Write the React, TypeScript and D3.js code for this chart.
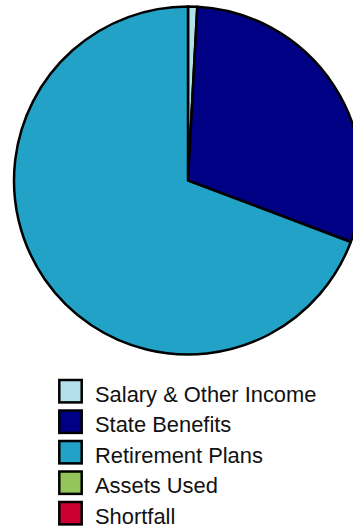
import React from "react";
import * as d3 from "d3";

const categories = ["Salary & Other Income", "State Benefits", "Retirement Plans", "Assets Used", "Shortfall"];
const values = [0.85, 29.9, 69.25, 0, 0];
const colors = ["#b3e0ea", "#000084", "#22a2c6", "#92c55a", "#cc0033"];

export default function App() {
  const W = 353, H = 527;
  const cx = 188, cy = 180.5, r = 174;
  const pie = d3.pie<number>().sort(null).value((d) => d).startAngle(0).endAngle(2 * Math.PI);
  const arcs = pie(values);
  const arc = d3.arc<d3.PieArcDatum<number>>().innerRadius(0).outerRadius(r);
  const legendY = d3.scaleBand<string>().domain(categories).range([380, 532.5]).paddingInner(0);
  return (
    <svg width={W} height={H} style={{ position: "absolute", left: 0, top: 0 }} fontFamily="Liberation Sans, Arial, sans-serif">
      <rect width={W} height={H} fill="#fff" />
      <g transform={`translate(${cx},${cy})`}>
        {arcs.map((a, i) =>
          a.value > 0 ? (
            <path key={i} d={arc(a) || ""} fill={colors[i]} stroke="#000" strokeWidth={2.5} strokeLinejoin="round" />
          ) : null
        )}
      </g>
      {categories.map((c, i) => {
        const y = legendY(c)!;
        return (
          <g key={c}>
            <rect x={59.3} y={y} width={22.4} height={22.4} fill={colors[i]} stroke="#000" strokeWidth={2.5} />
            <text x={95} y={y + 21.8} fontSize={21.9} fill="#111">{c}</text>
          </g>
        );
      })}
    </svg>
  );
}
